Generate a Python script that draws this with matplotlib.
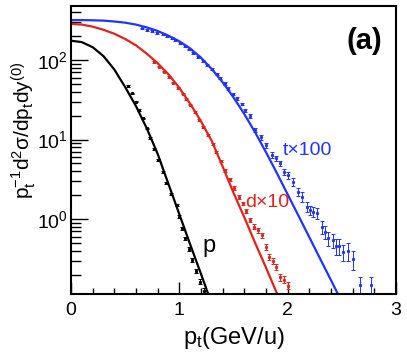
import matplotlib.pyplot as plt
import numpy as np
from matplotlib.ticker import MultipleLocator, LogLocator, NullFormatter

plt.rcParams['font.family'] = ['Liberation Sans', 'DejaVu Sans']
plt.rcParams['mathtext.fontset'] = 'custom'
plt.rcParams['mathtext.rm'] = 'Liberation Sans'
plt.rcParams['mathtext.it'] = 'Liberation Sans'
plt.rcParams['mathtext.bf'] = 'Liberation Sans:bold'

# fit curves
curve_pt_p = [0, 0.1, 0.2, 0.3, 0.4, 0.5, 0.6, 0.7, 0.8, 0.9, 1.0, 1.1, 1.2, 1.3]
curve_p = [175, 168, 145, 112, 76, 45.7, 26.3, 13.8, 6.6, 2.75, 1.15, 0.48, 0.204, 0.085]

curve_pt_d = [0, 0.1, 0.2, 0.3, 0.4, 0.5, 0.6, 0.7, 0.8, 0.9, 1.0,
              1.1, 1.2, 1.3, 1.4, 1.5, 1.6, 1.7, 1.8, 1.9, 2.0]
curve_d = [285, 279, 263, 240, 214, 184, 153, 120, 91.2, 66.1, 44.7,
           28.2, 17.0, 9.55, 4.57, 2.14, 1.05, 0.50, 0.245, 0.117, 0.056]

curve_pt_t = [0, 0.1, 0.2, 0.3, 0.4, 0.5, 0.6, 0.7, 0.8, 0.9, 1.0, 1.1, 1.2,
              1.3, 1.4, 1.5, 1.6, 1.7, 1.8, 1.9, 2.0, 2.1, 2.2, 2.3, 2.4, 2.5]
curve_t = [318, 318, 316, 313, 305, 295, 279, 257, 232, 202, 172, 140, 107,
           76.7, 52.5, 33.9, 20.9, 12.3, 6.92, 3.80, 2.04, 1.10, 0.59, 0.316, 0.170, 0.091]

# measured points
pt_p = [0.529, 0.566, 0.600, 0.631, 0.668, 0.699, 0.729, 0.769, 0.806, 0.847, 0.874,
        0.921, 0.976, 1.000, 1.022, 1.053, 1.090, 1.120, 1.154, 1.191, 1.228]
y_p = [47.1, 38.1, 29.9, 23.5, 18.5, 13.8, 10.4, 7.53, 5.52, 3.94, 2.86,
       2.06, 1.50, 1.07, 0.764, 0.571, 0.42, 0.305, 0.224, 0.163, 0.125]
err_p = [0.9, 0.8, 0.6, 0.5, 0.4, 0.3, 0.25, 0.2, 0.15, 0.1, 0.08,
         0.06, 0.05, 0.04, 0.03, 0.025, 0.02, 0.016, 0.013, 0.011, 0.009]

pt_d = [0.766, 0.813, 0.859, 0.905, 0.946, 0.988, 1.030, 1.066, 1.103, 1.145, 1.182,
        1.223, 1.265, 1.307, 1.343, 1.385, 1.422, 1.464, 1.505, 1.547, 1.591, 1.619,
        1.653, 1.690, 1.722, 1.761, 1.796, 1.825, 1.861, 1.893, 1.930, 1.967, 1.999]
y_d = [94.4, 82.8, 71.6, 61.1, 52.1, 44.5, 37.9, 32.3, 27.5, 22.2, 17.6,
       14.4, 11.4, 8.78, 6.96, 5.37, 4.13, 3.18, 2.45, 1.89, 1.57, 1.26,
       0.97, 0.805, 0.727, 0.63, 0.449, 0.333, 0.30, 0.251, 0.186, 0.173, 0.146]
err_d = [2.0, 1.8, 1.6, 1.4, 1.2, 1.0, 0.9, 0.8, 0.7, 0.6, 0.5,
         0.45, 0.4, 0.3, 0.25, 0.2, 0.18, 0.15, 0.12, 0.1, 0.08, 0.07,
         0.06, 0.05, 0.05, 0.045, 0.035, 0.03, 0.025, 0.022, 0.018, 0.017, 0.015]

pt_t = [0.653, 0.699, 0.745, 0.791, 0.847, 0.884, 0.930, 0.960, 1.006, 1.053, 1.090,
        1.129, 1.175, 1.222, 1.259, 1.299, 1.345, 1.376, 1.422, 1.452, 1.499, 1.530,
        1.576, 1.607, 1.653, 1.699, 1.752, 1.801, 1.853, 1.890, 1.930, 1.970, 2.006,
        2.047, 2.099, 2.130, 2.176, 2.207, 2.237, 2.274, 2.315, 2.345, 2.376, 2.416,
        2.447, 2.477, 2.514, 2.561, 2.607, 2.669, 2.767]
y_t = [250, 238, 232, 220, 212, 200, 188, 179, 165, 150, 136,
       124, 110, 98, 86.5, 76.4, 66.1, 58.9, 50.9, 44.1, 37.3, 33.0,
       28.0, 23.5, 19.8, 13.2, 10.7, 8.53, 6.38, 5.81, 5.01, 3.94, 3.57,
       2.94, 2.20, 1.91, 1.43, 1.30, 1.24, 1.18, 0.80, 0.69, 0.57, 0.544,
       0.457, 0.457, 0.388, 0.40, 0.311, 0.148, 0.148]
err_t = [6, 6, 6, 6, 5, 5, 5, 4.5, 4, 4, 3.5,
         3.5, 3, 3, 2.5, 2.5, 2.2, 2, 1.8, 1.6, 1.4, 1.3,
         1.1, 1.0, 0.9, 0.8, 0.7, 0.6, 0.5, 0.45, 0.4, 0.35, 0.35,
         0.3, 0.25, 0.25, 0.2, 0.18, 0.18, 0.18, 0.15, 0.13, 0.11, 0.11,
         0.1, 0.1, 0.09, 0.1, 0.08, 0.04, 0.04]

BLUE = '#2233ff'
RED = '#e0231c'


def main():
    fig = plt.figure(figsize=(4.07, 3.53), dpi=100)
    ax = fig.add_axes([0.1744, 0.167, 0.7986, 0.816])

    ax.plot(curve_pt_p, curve_p, color='black', lw=1.6)
    ax.plot(curve_pt_d, curve_d, color=RED, lw=1.6)
    ax.plot(curve_pt_t, curve_t, color=BLUE, lw=1.6)

    for x, y, e, c in [(pt_p, y_p, err_p, 'black'), (pt_d, y_d, err_d, RED),
                       (pt_t, y_t, err_t, BLUE)]:
        ax.errorbar(x, y, yerr=e, fmt='s', ms=1.2, color=c, ecolor=c,
                    elinewidth=0.7, capsize=1.4, capthick=0.7)

    ax.set_yscale('log')
    ax.set_xlim(0, 3)
    ax.set_ylim(0.114, 478)

    ax.xaxis.set_major_locator(MultipleLocator(1))
    ax.xaxis.set_minor_locator(MultipleLocator(0.2))
    ax.yaxis.set_major_locator(LogLocator(base=10))
    ax.yaxis.set_minor_locator(LogLocator(base=10, subs=np.arange(2, 10)))
    ax.yaxis.set_minor_formatter(NullFormatter())

    ax.tick_params(axis='both', which='both', direction='in', top=False, right=False,
                   labelsize=14, width=1)
    ax.tick_params(axis='y', which='major', length=12, pad=2)
    ax.tick_params(axis='y', which='minor', length=7)
    ax.tick_params(axis='x', which='major', length=8.5, pad=6)
    ax.tick_params(axis='x', which='minor', length=4.5)
    for s in ax.spines.values():
        s.set_linewidth(1.5)

    ax.set_xlabel(r'$\mathregular{p_t}$(GeV/u)', fontsize=17, labelpad=4)
    fig.text(0.058, 0.632, r'$\mathregular{p_t^{-1}d^2σ/dp_tdy^{(0)}}$', fontsize=15,
             rotation=90, ha='center', va='center')

    ax.text(1.957, 6.38, 't×100', color=BLUE, fontsize=14, va='baseline')
    ax.text(1.607, 1.415, 'd×10', color=RED, fontsize=14, va='baseline')
    ax.text(1.21, 0.385, 'p', color='black', fontsize=17, va='baseline')
    ax.text(0.848, 0.852, '(a)', transform=ax.transAxes, fontsize=21,
            fontweight='bold', va='baseline')

    fig.savefig('out.png', dpi=100)


if __name__ == "__main__":
    main()
